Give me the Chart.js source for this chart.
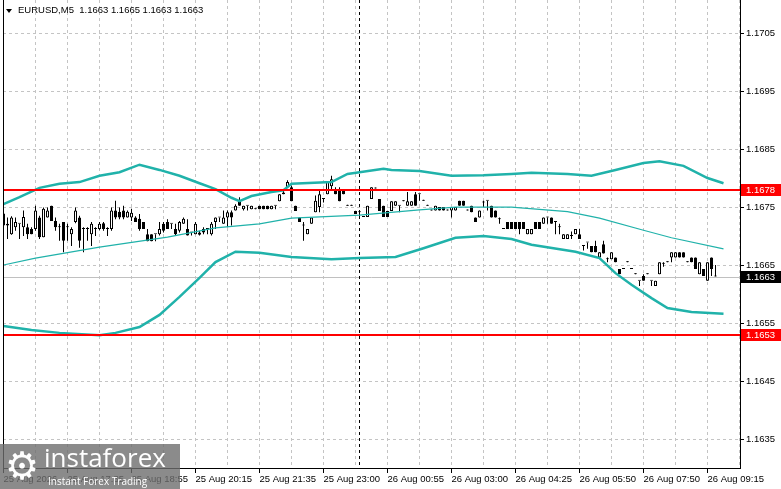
<!DOCTYPE html>
<html>
<head>
<meta charset="utf-8">
<script src="https://cdn.jsdelivr.net/npm/chart.js@4.4.1/dist/chart.umd.min.js"></script>
<style>
  html, body { margin: 0; padding: 0; background: #fff; overflow: hidden; }
  #wrap { position: relative; width: 781px; height: 489px; }
  #tri { position: absolute; left: 6px; top: 9px; width: 0; height: 0; border-left: 3.5px solid transparent; border-right: 3.5px solid transparent; border-top: 4px solid #000; }
  #title { position: absolute; left: 18px; top: 4px; font: 9.5px "Liberation Sans", Arial, sans-serif; color: #000; white-space: pre; }
  #logo { position: absolute; left: 0; top: 444px; width: 180px; height: 45px; background: rgba(110,110,110,0.8); color: #fff; overflow: hidden; }
  #gear { position: absolute; left: 5px; top: 0; font: 38px "DejaVu Sans", sans-serif; line-height: 44px; }
  #brand { position: absolute; left: 44px; top: -2px; font: 26px "Open Sans", sans-serif; line-height: 30px; }
  #slogan { position: absolute; left: 48px; top: 30px; font: 10px "Open Sans", sans-serif; line-height: 14px; }
</style>
</head>
<body>
<div id="wrap">
  <canvas id="chart" width="781" height="489"></canvas>
  <div id="tri"></div>
  <div id="title">EURUSD,M5  1.1663 1.1665 1.1663 1.1663</div>
  <div id="logo"><span id="gear">⚙</span><span id="brand">instaforex</span><span id="slogan">Instant Forex Trading</span></div>
</div>
<script>
// time axis labels, one every 16 bars
const tickLabels = ['25 Aug 2026', '25 Aug 17:35', '25 Aug 18:55', '25 Aug 20:15', '25 Aug 21:35', '25 Aug 23:00',
  '26 Aug 00:55', '26 Aug 03:00', '26 Aug 04:25', '26 Aug 05:50', '26 Aug 07:50', '26 Aug 09:15'];
const yTicks = [1.1635, 1.1645, 1.1655, 1.1665, 1.1675, 1.1685, 1.1695, 1.1705];

// M5 candles
const open = [
  1.16739, 1.16718, 1.16703, 1.16715, 1.16721, 1.16715, 1.16715, 1.16712, 1.16712, 1.16732,
  1.16698, 1.16732, 1.16752, 1.16726, 1.16715, 1.16724, 1.16715, 1.16703, 1.16724, 1.16732,
  1.16712, 1.16712, 1.16703, 1.16712, 1.16712, 1.16722, 1.16712, 1.16712, 1.16744, 1.16742,
  1.16744, 1.16732, 1.16732, 1.16732, 1.16730, 1.16724, 1.16703, 1.16703, 1.16703, 1.16703,
  1.16721, 1.16724, 1.16721, 1.16712, 1.16709, 1.16721, 1.16712, 1.16706, 1.16703, 1.16706,
  1.16712, 1.16712, 1.16703, 1.16724, 1.16732, 1.16721, 1.16732, 1.16741, 1.16744, 1.16761,
  1.16746, 1.16752, 1.16746, 1.16746, 1.16752, 1.16752, 1.16752, 1.16746, 1.16752, 1.16760,
  1.16772, 1.16784, 1.16784, 1.16752, 1.16732, 1.16718, 1.16703, 1.16721, 1.16741, 1.16750,
  1.16764, 1.16772, 1.16786, 1.16781, 1.16781, 1.16781, 1.16752, 1.16752, 1.16743, 1.16741,
  1.16733, 1.16733, 1.16764, 1.16782, 1.16764, 1.16752, 1.16743, 1.16743, 1.16752, 1.16752,
  1.16760, 1.16752, 1.16752, 1.16772, 1.16772, 1.16761, 1.16752, 1.16744, 1.16744, 1.16750,
  1.16750, 1.16744, 1.16744, 1.16744, 1.16761, 1.16761, 1.16744, 1.16752, 1.16732, 1.16732,
  1.16758, 1.16761, 1.16752, 1.16744, 1.16729, 1.16712, 1.16724, 1.16724, 1.16724, 1.16724,
  1.16724, 1.16703, 1.16703, 1.16724, 1.16724, 1.16721, 1.16732, 1.16732, 1.16724, 1.16715,
  1.16695, 1.16695, 1.16700, 1.16703, 1.16703, 1.16683, 1.16689, 1.16683, 1.16683, 1.16663,
  1.16686, 1.16660, 1.16660, 1.16663, 1.16643, 1.16643, 1.16655, 1.16643, 1.16634, 1.16623,
  1.16631, 1.16634, 1.16623, 1.16614, 1.16634, 1.16652, 1.16655, 1.16663, 1.16663, 1.16672,
  1.16672, 1.16655, 1.16663, 1.16663, 1.16634, 1.16643, 1.16623, 1.16663, 1.16630
];
const high = [
  1.16744, 1.16732, 1.16734, 1.16732, 1.16721, 1.16744, 1.16721, 1.16715, 1.16752, 1.16735,
  1.16749, 1.16749, 1.16752, 1.16732, 1.16721, 1.16724, 1.16721, 1.16715, 1.16749, 1.16735,
  1.16715, 1.16715, 1.16724, 1.16715, 1.16724, 1.16724, 1.16715, 1.16749, 1.16761, 1.16749,
  1.16752, 1.16744, 1.16747, 1.16734, 1.16738, 1.16724, 1.16712, 1.16703, 1.16703, 1.16724,
  1.16724, 1.16729, 1.16721, 1.16721, 1.16726, 1.16732, 1.16729, 1.16706, 1.16724, 1.16709,
  1.16715, 1.16712, 1.16724, 1.16732, 1.16732, 1.16744, 1.16744, 1.16744, 1.16755, 1.16767,
  1.16752, 1.16752, 1.16752, 1.16746, 1.16752, 1.16752, 1.16752, 1.16752, 1.16752, 1.16772,
  1.16781, 1.16796, 1.16787, 1.16752, 1.16732, 1.16724, 1.16712, 1.16732, 1.16770, 1.16781,
  1.16764, 1.16795, 1.16804, 1.16784, 1.16784, 1.16781, 1.16752, 1.16752, 1.16743, 1.16741,
  1.16733, 1.16752, 1.16784, 1.16782, 1.16764, 1.16752, 1.16743, 1.16760, 1.16760, 1.16752,
  1.16760, 1.16776, 1.16760, 1.16776, 1.16772, 1.16761, 1.16752, 1.16744, 1.16752, 1.16750,
  1.16750, 1.16744, 1.16750, 1.16750, 1.16761, 1.16761, 1.16744, 1.16752, 1.16732, 1.16744,
  1.16761, 1.16761, 1.16752, 1.16744, 1.16732, 1.16712, 1.16724, 1.16724, 1.16724, 1.16724,
  1.16724, 1.16712, 1.16712, 1.16724, 1.16724, 1.16732, 1.16732, 1.16732, 1.16724, 1.16721,
  1.16703, 1.16703, 1.16708, 1.16712, 1.16712, 1.16683, 1.16689, 1.16683, 1.16692, 1.16672,
  1.16692, 1.16663, 1.16672, 1.16663, 1.16643, 1.16643, 1.16655, 1.16643, 1.16634, 1.16623,
  1.16634, 1.16634, 1.16623, 1.16623, 1.16655, 1.16655, 1.16655, 1.16672, 1.16672, 1.16672,
  1.16672, 1.16655, 1.16663, 1.16663, 1.16655, 1.16643, 1.16655, 1.16663, 1.16650
];
const low = [
  1.16703, 1.16695, 1.16702, 1.16709, 1.16695, 1.16700, 1.16695, 1.16703, 1.16709, 1.16695,
  1.16698, 1.16732, 1.16726, 1.16709, 1.16692, 1.16672, 1.16692, 1.16683, 1.16722, 1.16680,
  1.16672, 1.16692, 1.16683, 1.16700, 1.16710, 1.16709, 1.16700, 1.16709, 1.16729, 1.16729,
  1.16729, 1.16732, 1.16726, 1.16724, 1.16709, 1.16712, 1.16691, 1.16691, 1.16691, 1.16701,
  1.16706, 1.16712, 1.16712, 1.16701, 1.16706, 1.16721, 1.16701, 1.16701, 1.16703, 1.16701,
  1.16703, 1.16703, 1.16701, 1.16712, 1.16724, 1.16721, 1.16715, 1.16718, 1.16744, 1.16752,
  1.16744, 1.16744, 1.16746, 1.16746, 1.16746, 1.16746, 1.16746, 1.16746, 1.16746, 1.16760,
  1.16772, 1.16784, 1.16760, 1.16743, 1.16724, 1.16692, 1.16703, 1.16721, 1.16741, 1.16741,
  1.16758, 1.16772, 1.16781, 1.16772, 1.16760, 1.16772, 1.16752, 1.16752, 1.16738, 1.16732,
  1.16733, 1.16733, 1.16764, 1.16782, 1.16743, 1.16733, 1.16733, 1.16743, 1.16752, 1.16741,
  1.16760, 1.16752, 1.16752, 1.16752, 1.16761, 1.16761, 1.16752, 1.16744, 1.16744, 1.16744,
  1.16744, 1.16744, 1.16732, 1.16744, 1.16752, 1.16752, 1.16744, 1.16741, 1.16724, 1.16732,
  1.16750, 1.16744, 1.16732, 1.16732, 1.16721, 1.16712, 1.16712, 1.16712, 1.16712, 1.16703,
  1.16712, 1.16703, 1.16703, 1.16712, 1.16712, 1.16721, 1.16721, 1.16721, 1.16703, 1.16703,
  1.16695, 1.16695, 1.16695, 1.16703, 1.16695, 1.16675, 1.16678, 1.16672, 1.16672, 1.16663,
  1.16670, 1.16655, 1.16660, 1.16655, 1.16634, 1.16643, 1.16655, 1.16643, 1.16634, 1.16614,
  1.16623, 1.16634, 1.16614, 1.16614, 1.16634, 1.16647, 1.16655, 1.16655, 1.16663, 1.16663,
  1.16663, 1.16655, 1.16655, 1.16643, 1.16634, 1.16631, 1.16623, 1.16631, 1.16630
];
const close = [
  1.16718, 1.16721, 1.16732, 1.16724, 1.16721, 1.16733, 1.16703, 1.16703, 1.16744, 1.16698,
  1.16747, 1.16744, 1.16726, 1.16715, 1.16715, 1.16692, 1.16715, 1.16712, 1.16744, 1.16692,
  1.16712, 1.16712, 1.16721, 1.16712, 1.16721, 1.16712, 1.16712, 1.16744, 1.16732, 1.16732,
  1.16732, 1.16742, 1.16740, 1.16724, 1.16712, 1.16712, 1.16691, 1.16691, 1.16703, 1.16712,
  1.16709, 1.16712, 1.16721, 1.16703, 1.16724, 1.16730, 1.16701, 1.16706, 1.16721, 1.16702,
  1.16706, 1.16712, 1.16721, 1.16732, 1.16732, 1.16732, 1.16741, 1.16732, 1.16752, 1.16752,
  1.16752, 1.16752, 1.16752, 1.16746, 1.16746, 1.16746, 1.16746, 1.16752, 1.16752, 1.16772,
  1.16775, 1.16793, 1.16760, 1.16743, 1.16724, 1.16718, 1.16712, 1.16732, 1.16761, 1.16772,
  1.16764, 1.16793, 1.16798, 1.16772, 1.16760, 1.16772, 1.16752, 1.16752, 1.16738, 1.16741,
  1.16733, 1.16752, 1.16784, 1.16782, 1.16743, 1.16733, 1.16733, 1.16760, 1.16760, 1.16752,
  1.16760, 1.16760, 1.16760, 1.16752, 1.16772, 1.16761, 1.16752, 1.16744, 1.16752, 1.16744,
  1.16744, 1.16744, 1.16750, 1.16750, 1.16752, 1.16752, 1.16744, 1.16741, 1.16724, 1.16744,
  1.16758, 1.16761, 1.16732, 1.16732, 1.16729, 1.16712, 1.16712, 1.16712, 1.16712, 1.16712,
  1.16712, 1.16712, 1.16712, 1.16712, 1.16712, 1.16732, 1.16732, 1.16721, 1.16724, 1.16715,
  1.16703, 1.16703, 1.16700, 1.16712, 1.16695, 1.16683, 1.16689, 1.16672, 1.16672, 1.16672,
  1.16670, 1.16660, 1.16672, 1.16655, 1.16634, 1.16643, 1.16655, 1.16643, 1.16634, 1.16623,
  1.16623, 1.16634, 1.16623, 1.16623, 1.16655, 1.16652, 1.16655, 1.16672, 1.16672, 1.16663,
  1.16663, 1.16655, 1.16655, 1.16643, 1.16655, 1.16631, 1.16655, 1.16643, 1.16630
];

// Bollinger bands, sampled at bar indexes
const upperIdx = [0, 4, 9, 14, 19, 24, 29, 34, 39, 44, 49, 53, 57, 59, 62, 67, 70, 72, 82, 86,
  89, 95, 97, 104, 112, 120, 127, 132, 141, 147, 153, 160, 164, 170, 176, 180];
const upperBand = [1.16755, 1.16767, 1.16783, 1.16790, 1.16793, 1.16804, 1.16810, 1.16823, 1.16814, 1.16804,
  1.16791, 1.16781, 1.16766, 1.16760, 1.16769, 1.16776, 1.16779, 1.16790, 1.16793, 1.16807,
  1.16810, 1.16816, 1.16814, 1.16812, 1.16804, 1.16805, 1.16807, 1.16809, 1.16807, 1.16804,
  1.16814, 1.16826, 1.16829, 1.16821, 1.16800, 1.16791];
const midIdx = [0, 8, 24, 41, 53, 64, 72, 89, 104, 113, 127, 141, 149, 160, 167, 180];
const midBand = [1.16650, 1.16662, 1.16681, 1.16698, 1.16714, 1.16721, 1.16731, 1.16736, 1.16745, 1.16750,
  1.16750, 1.16742, 1.16731, 1.16710, 1.16697, 1.16678];
const lowerIdx = [0, 7, 14, 24, 28, 34, 39, 44, 49, 53, 58, 64, 72, 82, 89, 98, 105, 113, 120, 127,
  132, 143, 149, 153, 157, 162, 166, 172, 180];
const lowerBand = [1.16545, 1.16538, 1.16533, 1.16529, 1.16533, 1.16543, 1.16564, 1.16595, 1.16628, 1.16655,
  1.16673, 1.16671, 1.16664, 1.16660, 1.16662, 1.16664, 1.16679, 1.16697, 1.16700, 1.16695,
  1.16685, 1.16673, 1.16662, 1.16636, 1.16616, 1.16593, 1.16576, 1.16569, 1.16566];

const levels = [1.1678, 1.1653];
const bidPrice = 1.1663;
const separatorIdx = 89;

const gridStep = 8;
const labelStep = 16;
const lastSlot = 184;
const teal = 'rgb(32,178,170)';
const gridGray = '#c4c4c4';
const font = { family: '"Liberation Sans", Arial, sans-serif', size: 9.5 };

const wickData = open.map((o, i) => ({ x: i, y: [low[i], high[i]] }));
const bodyData = open.map((o, i) => ({ x: i, y: [o, close[i]] }));
const bodyFill = open.map((o, i) => close[i] >= o ? '#ffffff' : '#000000');
const toPts = (idx, vals) => idx.map((k, j) => ({ x: k, y: vals[j] }));

const overlay = {
  id: 'overlay',
  beforeDatasetsDraw(chart) {
    const { ctx, chartArea: a, scales: { x, y } } = chart;
    ctx.save();
    // bid line
    const by = Math.round(y.getPixelForValue(bidPrice)) + 0.5;
    ctx.strokeStyle = '#c0c0c0';
    ctx.lineWidth = 1;
    ctx.beginPath(); ctx.moveTo(a.left, by); ctx.lineTo(a.right, by); ctx.stroke();
    // day separator
    const sx = x.getPixelForValue(separatorIdx);
    ctx.strokeStyle = '#000';
    ctx.setLineDash([3, 3]);
    ctx.beginPath(); ctx.moveTo(sx, a.top); ctx.lineTo(sx, a.bottom); ctx.stroke();
    ctx.restore();
  },
  afterDatasetsDraw(chart) {
    const { ctx, chartArea: a, scales: { y } } = chart;
    ctx.save();
    ctx.strokeStyle = '#ff0000';
    ctx.lineWidth = 2;
    levels.forEach(v => {
      const py = Math.round(y.getPixelForValue(v));
      ctx.beginPath(); ctx.moveTo(a.left, py); ctx.lineTo(a.right, py); ctx.stroke();
    });
    ctx.restore();
  },
  afterDraw(chart) {
    const { ctx, chartArea: a, scales: { y } } = chart;
    ctx.save();
    ctx.strokeStyle = '#000';
    ctx.lineWidth = 1;
    ctx.beginPath(); ctx.moveTo(a.left + 0.5, 0); ctx.lineTo(a.left + 0.5, a.bottom); ctx.stroke();
    ctx.font = '9.5px "Liberation Sans", Arial, sans-serif';
    ctx.textBaseline = 'middle';
    const tag = (v, bg) => {
      const py = Math.round(y.getPixelForValue(v));
      ctx.fillStyle = bg;
      ctx.fillRect(a.right + 1, py - 6, chart.width - a.right - 1, 12);
      ctx.fillStyle = '#fff';
      ctx.fillText(v.toFixed(4), a.right + 6, py + 0.5);
    };
    levels.forEach(v => tag(v, '#ff0000'));
    tag(bidPrice, '#000');
    ctx.restore();
  }
};

new Chart(document.getElementById('chart'), {
  type: 'bar',
  data: {
    datasets: [
      { type: 'line', data: toPts(upperIdx, upperBand), borderColor: teal, borderWidth: 2.5, pointRadius: 0, tension: 0, order: 0 },
      { type: 'line', data: toPts(midIdx, midBand), borderColor: teal, borderWidth: 1.2, pointRadius: 0, tension: 0, order: 0 },
      { type: 'line', data: toPts(lowerIdx, lowerBand), borderColor: teal, borderWidth: 2.5, pointRadius: 0, tension: 0, order: 0 },
      { data: bodyData, backgroundColor: bodyFill, borderColor: '#000', borderWidth: 1, borderSkipped: false,
        barThickness: 3, minBarLength: 1, grouped: false, inflateAmount: 0, order: 1 },
      { data: wickData, backgroundColor: '#000', borderWidth: 0, barThickness: 1, minBarLength: 1,
        grouped: false, inflateAmount: 0, order: 2 }
    ]
  },
  options: {
    responsive: false,
    animation: false,
    devicePixelRatio: 1,
    layout: { padding: { left: 3, top: 0, right: 0, bottom: 0 } },
    plugins: { legend: { display: false }, tooltip: { enabled: false } },
    scales: {
      x: {
        type: 'linear', min: -0.125, max: lastSlot + 0.125, offset: false,
        afterBuildTicks: s => {
          s.ticks = [];
          for (let u = 0; u <= lastSlot; u += gridStep) s.ticks.push({ value: u });
        },
        afterFit: s => { s.height = 21; s.paddingLeft = 0; s.paddingRight = 0; },
        grid: {
          offset: false, color: gridGray, lineWidth: 1, tickLength: 5, tickWidth: 1,
          tickColor: c => (c.tick && c.tick.value % labelStep === 0) ? '#000' : 'rgba(0,0,0,0)'
        },
        border: { color: '#000', width: 1, dash: [3, 3] },
        ticks: {
          autoSkip: false, maxRotation: 0, minRotation: 0, align: 'start', padding: 1,
          color: '#000', font: font,
          callback: v => v % labelStep === 0 ? tickLabels[v / labelStep] : ''
        }
      },
      y: {
        type: 'linear', position: 'right', min: 1.1630, max: 1.17107, beginAtZero: false,
        afterBuildTicks: s => { s.ticks = yTicks.map(v => ({ value: v })); },
        afterFit: s => { s.width = 41; s.paddingTop = 0; s.paddingBottom = 0; },
        grid: { color: gridGray, lineWidth: 1, tickLength: 4, tickColor: '#000' },
        border: { color: '#000', width: 1, dash: [3, 3] },
        ticks: { padding: 2, color: '#000', font: font, callback: v => v.toFixed(4) }
      }
    }
  },
  plugins: [overlay]
});
</script>
</body>
</html>
